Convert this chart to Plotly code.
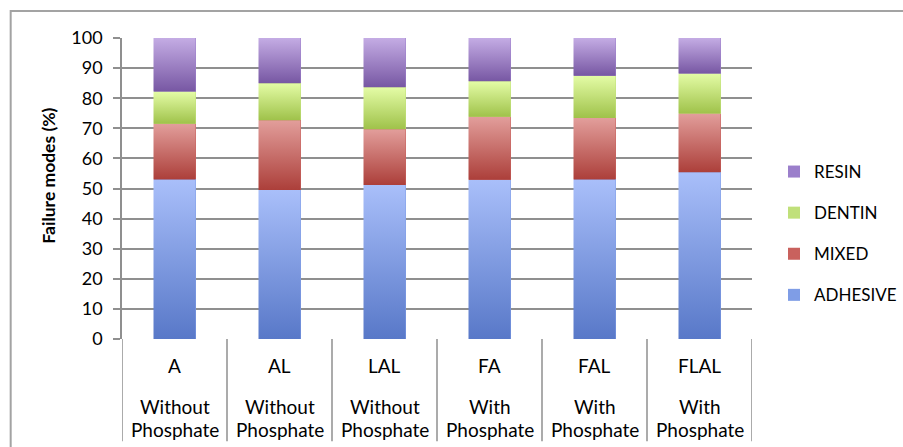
import plotly.graph_objects as go

# Failure-mode distribution (%) for each adhesive protocol
groups = ["A", "AL", "LAL", "FA", "FAL", "FLAL"]
treatment_line1 = ["Without", "Without", "Without", "With", "With", "With"]
treatment_line2 = ["Phosphate"] * 6

adhesive = [53.0, 49.5, 51.2, 52.9, 53.0, 55.4]
mixed = [18.5, 23.2, 18.5, 20.9, 20.4, 19.5]
dentin = [10.7, 12.3, 13.9, 11.8, 14.1, 13.3]
resin = [17.8, 15.0, 16.4, 14.4, 12.5, 11.8]

y_ticks = list(range(0, 101, 10))

FONT = "Lato"
TXT = "#000000"
GRID = "#8f8f8f"

# name, values, (bottom shade, top shade, legend swatch), legend rank
series = [
    ("ADHESIVE", adhesive, ("#5878c8", "#a9bffa", "#7f9de6"), 4),
    ("MIXED", mixed, ("#ac3f3a", "#e29e9b", "#c9615d"), 3),
    ("DENTIN", dentin, ("#9fc24a", "#e4fca6", "#c0e07a"), 2),
    ("RESIN", resin, ("#7757a3", "#c4ace4", "#9b7fcb"), 1),
]

# plot-area geometry in pixels
W, H = 903, 447
L, R, T, B = 121.5, 752.5, 37.5, 339.5
pw, ph = R - L, B - T


def px_x(px):
    return (px - L) / pw


def px_y(py):
    return (B - py) / ph


xpos = list(range(len(groups)))
bar_w = 0.4

fig = go.Figure()

# stacked bars (carry the legend)
for name, vals, (c0, c1, cl), rank in series:
    fig.add_trace(go.Bar(
        x=xpos, y=vals, name=name, width=bar_w, legendgroup=name,
        legendrank=rank, marker=dict(color=cl, line=dict(width=0)),
    ))

# vertical shading on every stacked segment
base = [0.0] * len(groups)
for name, vals, (c0, c1, cl), rank in series:
    for i, v in enumerate(vals):
        x0, x1 = xpos[i] - bar_w / 2, xpos[i] + bar_w / 2
        y0, y1 = base[i], base[i] + v
        fig.add_trace(go.Scatter(
            x=[x0, x1, x1, x0, x0], y=[y0, y0, y1, y1, y0],
            mode="lines", fill="toself", line=dict(width=0, color=c1),
            fillgradient=dict(type="vertical", colorscale=[[0, c0], [1, c1]],
                              start=y0, stop=y1),
            showlegend=False, hoverinfo="skip", legendgroup=name,
        ))
        base[i] = y1

# category labels under each column
lab_font = dict(family=FONT, size=19, color=TXT)
for i, g in enumerate(groups):
    fig.add_annotation(x=xpos[i], y=px_y(366.5), xref="x", yref="paper",
                       text=g, showarrow=False, yanchor="middle", font=lab_font)
    fig.add_annotation(x=xpos[i], y=px_y(407), xref="x", yref="paper",
                       text=treatment_line1[i], showarrow=False, yanchor="middle",
                       font=lab_font)
    fig.add_annotation(x=xpos[i], y=px_y(430.5), xref="x", yref="paper",
                       text=treatment_line2[i], showarrow=False, yanchor="middle",
                       font=lab_font)

# column dividers of the category table
shapes = []
for k in range(len(groups) + 1):
    shapes.append(dict(type="line", xref="x", yref="paper",
                       x0=k - 0.5, x1=k - 0.5, y0=0, y1=px_y(442),
                       line=dict(color=GRID, width=1.5)))
# outer chart frame
shapes.append(dict(type="rect", xref="paper", yref="paper",
                   x0=px_x(10), x1=px_x(915), y0=px_y(460), y1=px_y(10.5),
                   line=dict(color="#a3a3a3", width=2), fillcolor="rgba(0,0,0,0)",
                   layer="below"))

# y-axis title
fig.add_annotation(x=px_x(47), y=px_y(176), xref="paper", yref="paper",
                   text="<b>Failure modes (%)</b>", textangle=-90, showarrow=False,
                   xanchor="center", yanchor="middle",
                   font=dict(family=FONT, size=17.5, color=TXT))

fig.update_layout(
    width=W, height=H,
    margin=dict(l=L, r=W - R, t=T, b=H - B, pad=0, autoexpand=False),
    paper_bgcolor="white", plot_bgcolor="white",
    barmode="stack", bargap=0,
    showlegend=True,
    legend=dict(
        xref="container", yref="container",
        x=774 / W, xanchor="left", y=1 - 233.5 / H, yanchor="middle",
        traceorder="grouped", tracegroupgap=16,
        font=dict(family=FONT, size=17, color=TXT),
        bgcolor="rgba(0,0,0,0)", itemclick=False,
    ),
    xaxis=dict(range=[-0.5, len(groups) - 0.5], showticklabels=False,
               showgrid=False, zeroline=False, showline=False, ticks="",
               fixedrange=True),
    yaxis=dict(range=[0, 100], tickvals=y_ticks, ticktext=[str(v) for v in y_ticks],
               showgrid=True, gridcolor=GRID, gridwidth=1.5,
               zeroline=False, showline=True, linecolor=GRID, linewidth=1.5,
               ticks="outside", ticklen=7, tickcolor=GRID, tickwidth=1.5,
               ticklabelstandoff=7,
               tickfont=dict(family=FONT, size=18, color=TXT),
               fixedrange=True),
    shapes=shapes,
)

fig.write_html("out.html")
